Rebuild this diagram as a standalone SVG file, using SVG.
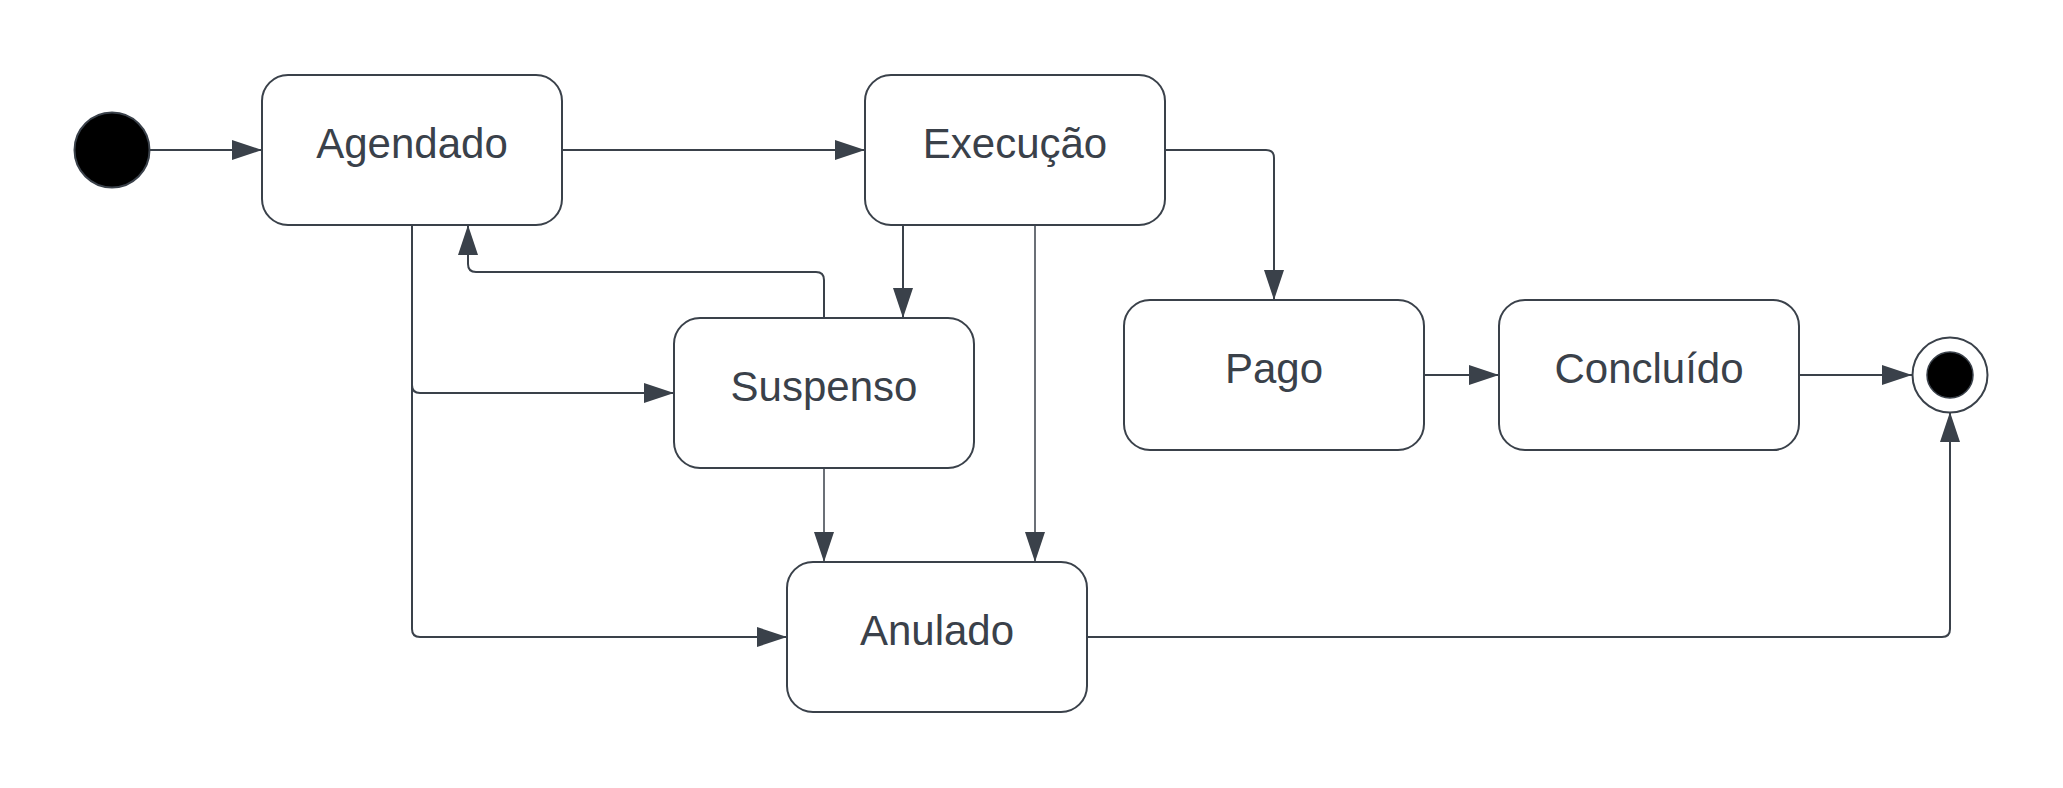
<svg xmlns="http://www.w3.org/2000/svg" width="2063" height="788" viewBox="0 0 2063 788">
<style>
.box{fill:#ffffff;stroke:#3a414a;stroke-width:2}
.lbl{font-family:"Liberation Sans",Arial,sans-serif;font-size:42px;fill:#3a414a;text-anchor:middle}
.c{fill:none;stroke:#3a414a;stroke-width:2;marker-end:url(#arr)}
.t{stroke-width:1.5}
</style>
<defs>
<marker id="arr" viewBox="0 0 30 20" refX="30" refY="10" markerWidth="30" markerHeight="20" markerUnits="userSpaceOnUse" orient="auto">
<path d="M0,0 L30,10 L0,20 z" fill="#3a414a"/>
</marker>
</defs>
<rect width="2063" height="788" fill="#ffffff"/>
<g id="connectors">
<path class="c" d="M150,150 L262,150"/>
<path class="c" d="M562,150 L865,150"/>
<path class="c" d="M1165,150 L1266,150 Q1274,150 1274,158 L1274,300"/>
<path class="c" d="M1424,375 L1499,375"/>
<path class="c" d="M1799,375 L1912,375"/>
<path class="c" d="M1087,637 L1942,637 Q1950,637 1950,629 L1950,412"/>
<path class="c" d="M412,225 L412,385 Q412,393 420,393 L674,393"/>
<path class="c" d="M412,225 L412,629 Q412,637 420,637 L787,637"/>
<path class="c" d="M824,318 L824,280 Q824,272 816,272 L476,272 Q468,272 468,264 L468,225"/>
<path class="c" d="M903,225 L903,318"/>
<path class="c t" d="M1035,225 L1035,562"/>
<path class="c t" d="M824,468 L824,562"/>
</g>
<g id="start">
<circle cx="112" cy="150" r="37.5" fill="#000000" stroke="#3a414a" stroke-width="2"/>
</g>
<g id="agendado">
<rect class="box" x="262" y="75" width="300" height="150" rx="26" ry="26"/>
<text class="lbl" x="412" y="158">Agendado</text>
</g>
<g id="execucao">
<rect class="box" x="865" y="75" width="300" height="150" rx="26" ry="26"/>
<text class="lbl" x="1015" y="158">Execução</text>
</g>
<g id="suspenso">
<rect class="box" x="674" y="318" width="300" height="150" rx="26" ry="26"/>
<text class="lbl" x="824" y="401">Suspenso</text>
</g>
<g id="pago">
<rect class="box" x="1124" y="300" width="300" height="150" rx="26" ry="26"/>
<text class="lbl" x="1274" y="383">Pago</text>
</g>
<g id="concluido">
<rect class="box" x="1499" y="300" width="300" height="150" rx="26" ry="26"/>
<text class="lbl" x="1649" y="383">Concluído</text>
</g>
<g id="anulado">
<rect class="box" x="787" y="562" width="300" height="150" rx="26" ry="26"/>
<text class="lbl" x="937" y="645">Anulado</text>
</g>
<g id="end">
<circle cx="1950" cy="375" r="37.5" fill="#ffffff" stroke="#3a414a" stroke-width="2"/>
<circle cx="1950" cy="375" r="23" fill="#000000" stroke="#3a414a" stroke-width="1.5"/>
</g>
</svg>
